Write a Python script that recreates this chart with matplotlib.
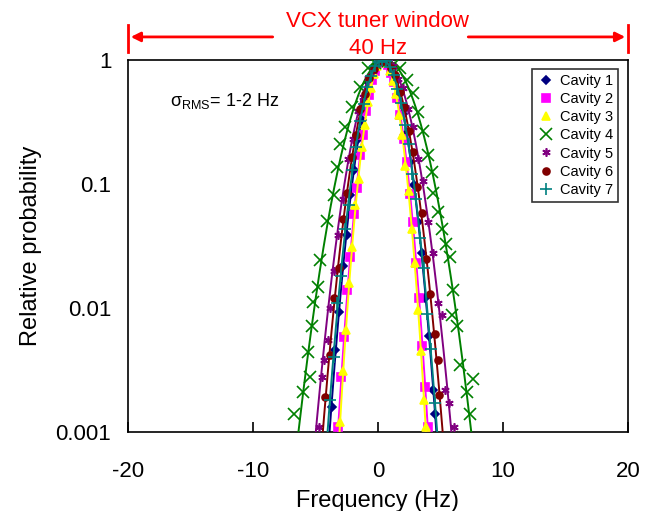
import numpy as np
import matplotlib.pyplot as plt

plt.rcParams['font.family'] = ['Liberation Sans', 'DejaVu Sans']
plt.rcParams['mathtext.fontset'] = 'custom'
plt.rcParams['mathtext.rm'] = 'Liberation Sans'
plt.rcParams['mathtext.it'] = 'Liberation Sans'

# --- measured histogram points (frequency in Hz, relative probability) ---
c1_f = [-3.7, -3.4, -3.1, -2.8, -2.5, -2.2, -1.9, -1.6, -1.3, -1.0, -0.7, -0.4, -0.1, 0.2, 0.5,
        0.8, 1.1, 1.4, 1.7, 2.0, 2.3, 2.6, 2.9, 3.2, 3.5, 3.8, 4.1, 4.4, 4.6]
c1_p = [0.0016, 0.0046, 0.0092, 0.022, 0.039, 0.082, 0.13, 0.23, 0.33, 0.47, 0.65, 0.77, 0.92, 0.99, 1.0,
        0.93, 0.84, 0.67, 0.54, 0.37, 0.26, 0.15, 0.098, 0.049, 0.028, 0.012, 0.0060, 0.0022, 0.0014]

c2_f = [-3.2, -2.95, -2.7, -2.45, -2.2, -1.95, -1.7, -1.45, -1.2, -0.95, -0.7, -0.45, -0.2, 0.05, 0.3,
        0.55, 0.8, 1.05, 1.3, 1.55, 1.8, 2.05, 2.3, 2.55, 2.8, 3.05, 3.3, 3.55, 3.8, 4.0]
c2_p = [0.0011, 0.0028, 0.0058, 0.014, 0.026, 0.057, 0.092, 0.17, 0.25, 0.39, 0.52, 0.69, 0.82, 0.95, 0.99,
        0.98, 0.91, 0.79, 0.66, 0.49, 0.36, 0.23, 0.15, 0.083, 0.049, 0.023, 0.012, 0.0049, 0.0023, 0.0011]

c3_f = [-3.05, -2.8, -2.55, -2.3, -2.05, -1.8, -1.55, -1.3, -1.05, -0.8, -0.55, -0.3, -0.05, 0.2, 0.45,
        0.7, 0.95, 1.2, 1.45, 1.7, 1.95, 2.2, 2.45, 2.7, 2.95, 3.2, 3.45, 3.7, 3.85]
c3_p = [0.0012, 0.0031, 0.0066, 0.016, 0.031, 0.068, 0.11, 0.20, 0.30, 0.46, 0.60, 0.77, 0.90, 0.98, 1.0,
        0.95, 0.82, 0.68, 0.53, 0.36, 0.25, 0.14, 0.088, 0.043, 0.023, 0.0097, 0.0045, 0.0018, 0.0011]

c4_f = [-6.7, -6.0, -5.6, -5.45, -5.3, -5.2, -4.8, -4.65, -4.05, -3.55, -3.3, -3.05, -2.65, -2.1, -1.45,
        -0.8, -0.2, 0.3, 0.8, 1.3, 1.76, 2.3, 2.83, 3.23, 3.63, 4.03, 4.3, 4.43, 4.83, 5.1,
        5.44, 5.76, 5.9, 6.0, 6.35, 6.6, 7.1, 7.36, 7.6]
c4_p = [0.0014, 0.0021, 0.0044, 0.0028, 0.0071, 0.0112, 0.0148, 0.0245, 0.050, 0.081, 0.138, 0.21, 0.29, 0.42, 0.61,
        0.86, 0.95, 1.0, 0.98, 0.92, 0.86, 0.69, 0.54, 0.38, 0.27, 0.17, 0.126, 0.084, 0.060, 0.043,
        0.033, 0.026, 0.0087, 0.014, 0.0071, 0.0035, 0.0021, 0.0014, 0.0027]

c5_f = [-4.75, -4.5, -4.35, -3.97, -3.84, -3.55, -3.17, -2.8, -2.4, -2.0, -1.6, -1.2, -0.8, -0.4, 0.0,
        0.4, 0.8, 1.2, 1.6, 2.0, 2.4, 2.8, 3.2, 3.6, 4.0, 4.4, 4.8, 5.1, 5.36, 5.7, 6.1]
c5_p = [0.0011, 0.0028, 0.0038, 0.0055, 0.010, 0.020, 0.039, 0.075, 0.16, 0.23, 0.39, 0.50, 0.72, 0.82, 0.97,
        1.0, 0.96, 0.90, 0.70, 0.60, 0.40, 0.29, 0.16, 0.105, 0.049, 0.028, 0.011, 0.0087, 0.0022, 0.0017, 0.0011]

c6_f = [-4.2, -3.85, -3.5, -3.15, -2.8, -2.45, -2.1, -1.75, -1.4, -1.05, -0.7, -0.35, 0.0, 0.35, 0.7,
        1.05, 1.4, 1.75, 2.1, 2.45, 2.8, 3.15, 3.5, 3.85, 4.2, 4.55, 4.83, 4.9]
c6_p = [0.0019, 0.0042, 0.012, 0.021, 0.052, 0.085, 0.165, 0.25, 0.40, 0.53, 0.72, 0.84, 0.97, 0.99, 0.97,
        0.86, 0.75, 0.55, 0.42, 0.27, 0.18, 0.095, 0.058, 0.025, 0.013, 0.0062, 0.0038, 0.0020]

c7_f = [-3.85, -3.55, -3.25, -2.95, -2.65, -2.35, -2.05, -1.75, -1.45, -1.15, -0.85, -0.55, -0.25, 0.05, 0.35,
        0.65, 0.95, 1.25, 1.55, 1.85, 2.15, 2.45, 2.75, 3.05, 3.35, 3.65, 3.95, 4.25, 4.55]
c7_p = [0.0018, 0.0040, 0.011, 0.018, 0.043, 0.068, 0.13, 0.20, 0.32, 0.44, 0.61, 0.74, 0.89, 0.96, 1.0,
        0.98, 0.87, 0.76, 0.58, 0.45, 0.30, 0.21, 0.12, 0.076, 0.037, 0.021, 0.0090, 0.0047, 0.0017]

# gaussian fit per cavity (centre, sigma in Hz)
fit_center = [0.40, 0.40, 0.38, 0.55, 0.45, 0.38, 0.35]
fit_sigma = [1.15, 0.97, 0.93, 1.86, 1.46, 1.29, 1.18]

labels = ['Cavity 1', 'Cavity 2', 'Cavity 3', 'Cavity 4', 'Cavity 5', 'Cavity 6', 'Cavity 7']
freqs = [c1_f, c2_f, c3_f, c4_f, c5_f, c6_f, c7_f]
probs = [c1_p, c2_p, c3_p, c4_p, c5_p, c6_p, c7_p]

colors = ['#000080', '#FF00FF', '#FFFF00', '#008000', '#800080', '#800000', '#008080']
markers = ['D', 's', '^', 'x', (6, 2, 0), 'o', '+']
msizes = [4, 5.5, 5.5, 8, 6, 5, 8]

fig = plt.figure(figsize=(6.54, 5.11), dpi=100)
ax = fig.add_axes([0.1957, 0.1546, 0.7645, 0.728])

xf = np.linspace(-9, 9, 600)
for i in range(7):
    yf = np.exp(-(xf - fit_center[i])**2 / (2 * fit_sigma[i]**2))
    ax.plot(xf, yf, color=colors[i], linewidth=1.4, zorder=2 + i)
    ax.plot(freqs[i], probs[i], linestyle='none', marker=markers[i], markersize=msizes[i],
            color=colors[i], markeredgewidth=1.2, label=labels[i], zorder=2 + i)

ax.set_yscale('log')
ax.set_ylim(0.001, 1)
ax.set_xlim(-20, 20)
ax.set_yticks([0.001, 0.01, 0.1, 1])
ax.set_yticklabels(['0.001', '0.01', '0.1', '1'])
ax.minorticks_off()
ax.set_xticks([-20, -10, 0, 10, 20])
ax.set_xticklabels(['-20', '-10', '0', '10', '20'])
ax.tick_params(axis='x', direction='in', length=7, width=1.2, labelsize=16, pad=21)
ax.tick_params(axis='y', length=0, labelsize=16, pad=12)
for s in ax.spines.values():
    s.set_linewidth(1.2)

ax.set_xlabel('Frequency (Hz)', fontsize=17, labelpad=6)
ax.set_ylabel('Relative probability', fontsize=17, labelpad=10)

ax.text(-16.6, 0.89, r'$\sigma_{\mathrm{RMS}}$= 1-2 Hz', fontsize=13,
        transform=ax.get_xaxis_transform(), va='center')

leg = ax.legend(loc='upper right', fontsize=10.5, frameon=True, fancybox=False,
                edgecolor='black', handletextpad=0.3, borderpad=0.35, labelspacing=0.28,
                handlelength=1.3, bbox_to_anchor=(0.995, 0.995))
leg.get_frame().set_linewidth(1.2)

# VCX tuner window annotation
tr = ax.get_xaxis_transform()
red = '#FF0000'
ax.annotate('', xy=(-20, 1.062), xytext=(-8.2, 1.062), xycoords=tr, textcoords=tr,
            arrowprops=dict(arrowstyle='-|>', color=red, lw=2, mutation_scale=14), annotation_clip=False)
ax.annotate('', xy=(20, 1.062), xytext=(7.0, 1.062), xycoords=tr, textcoords=tr,
            arrowprops=dict(arrowstyle='-|>', color=red, lw=2, mutation_scale=14), annotation_clip=False)
ax.plot([-20, -20], [1.022, 1.094], color=red, lw=2, transform=tr, clip_on=False)
ax.plot([20, 20], [1.022, 1.094], color=red, lw=2, transform=tr, clip_on=False)
ax.text(0, 1.103, 'VCX tuner window', color=red, fontsize=16, ha='center', va='center', transform=tr)
ax.text(0, 1.03, '40 Hz', color=red, fontsize=16, ha='center', va='center', transform=tr)

plt.savefig('out.png', dpi=100)
